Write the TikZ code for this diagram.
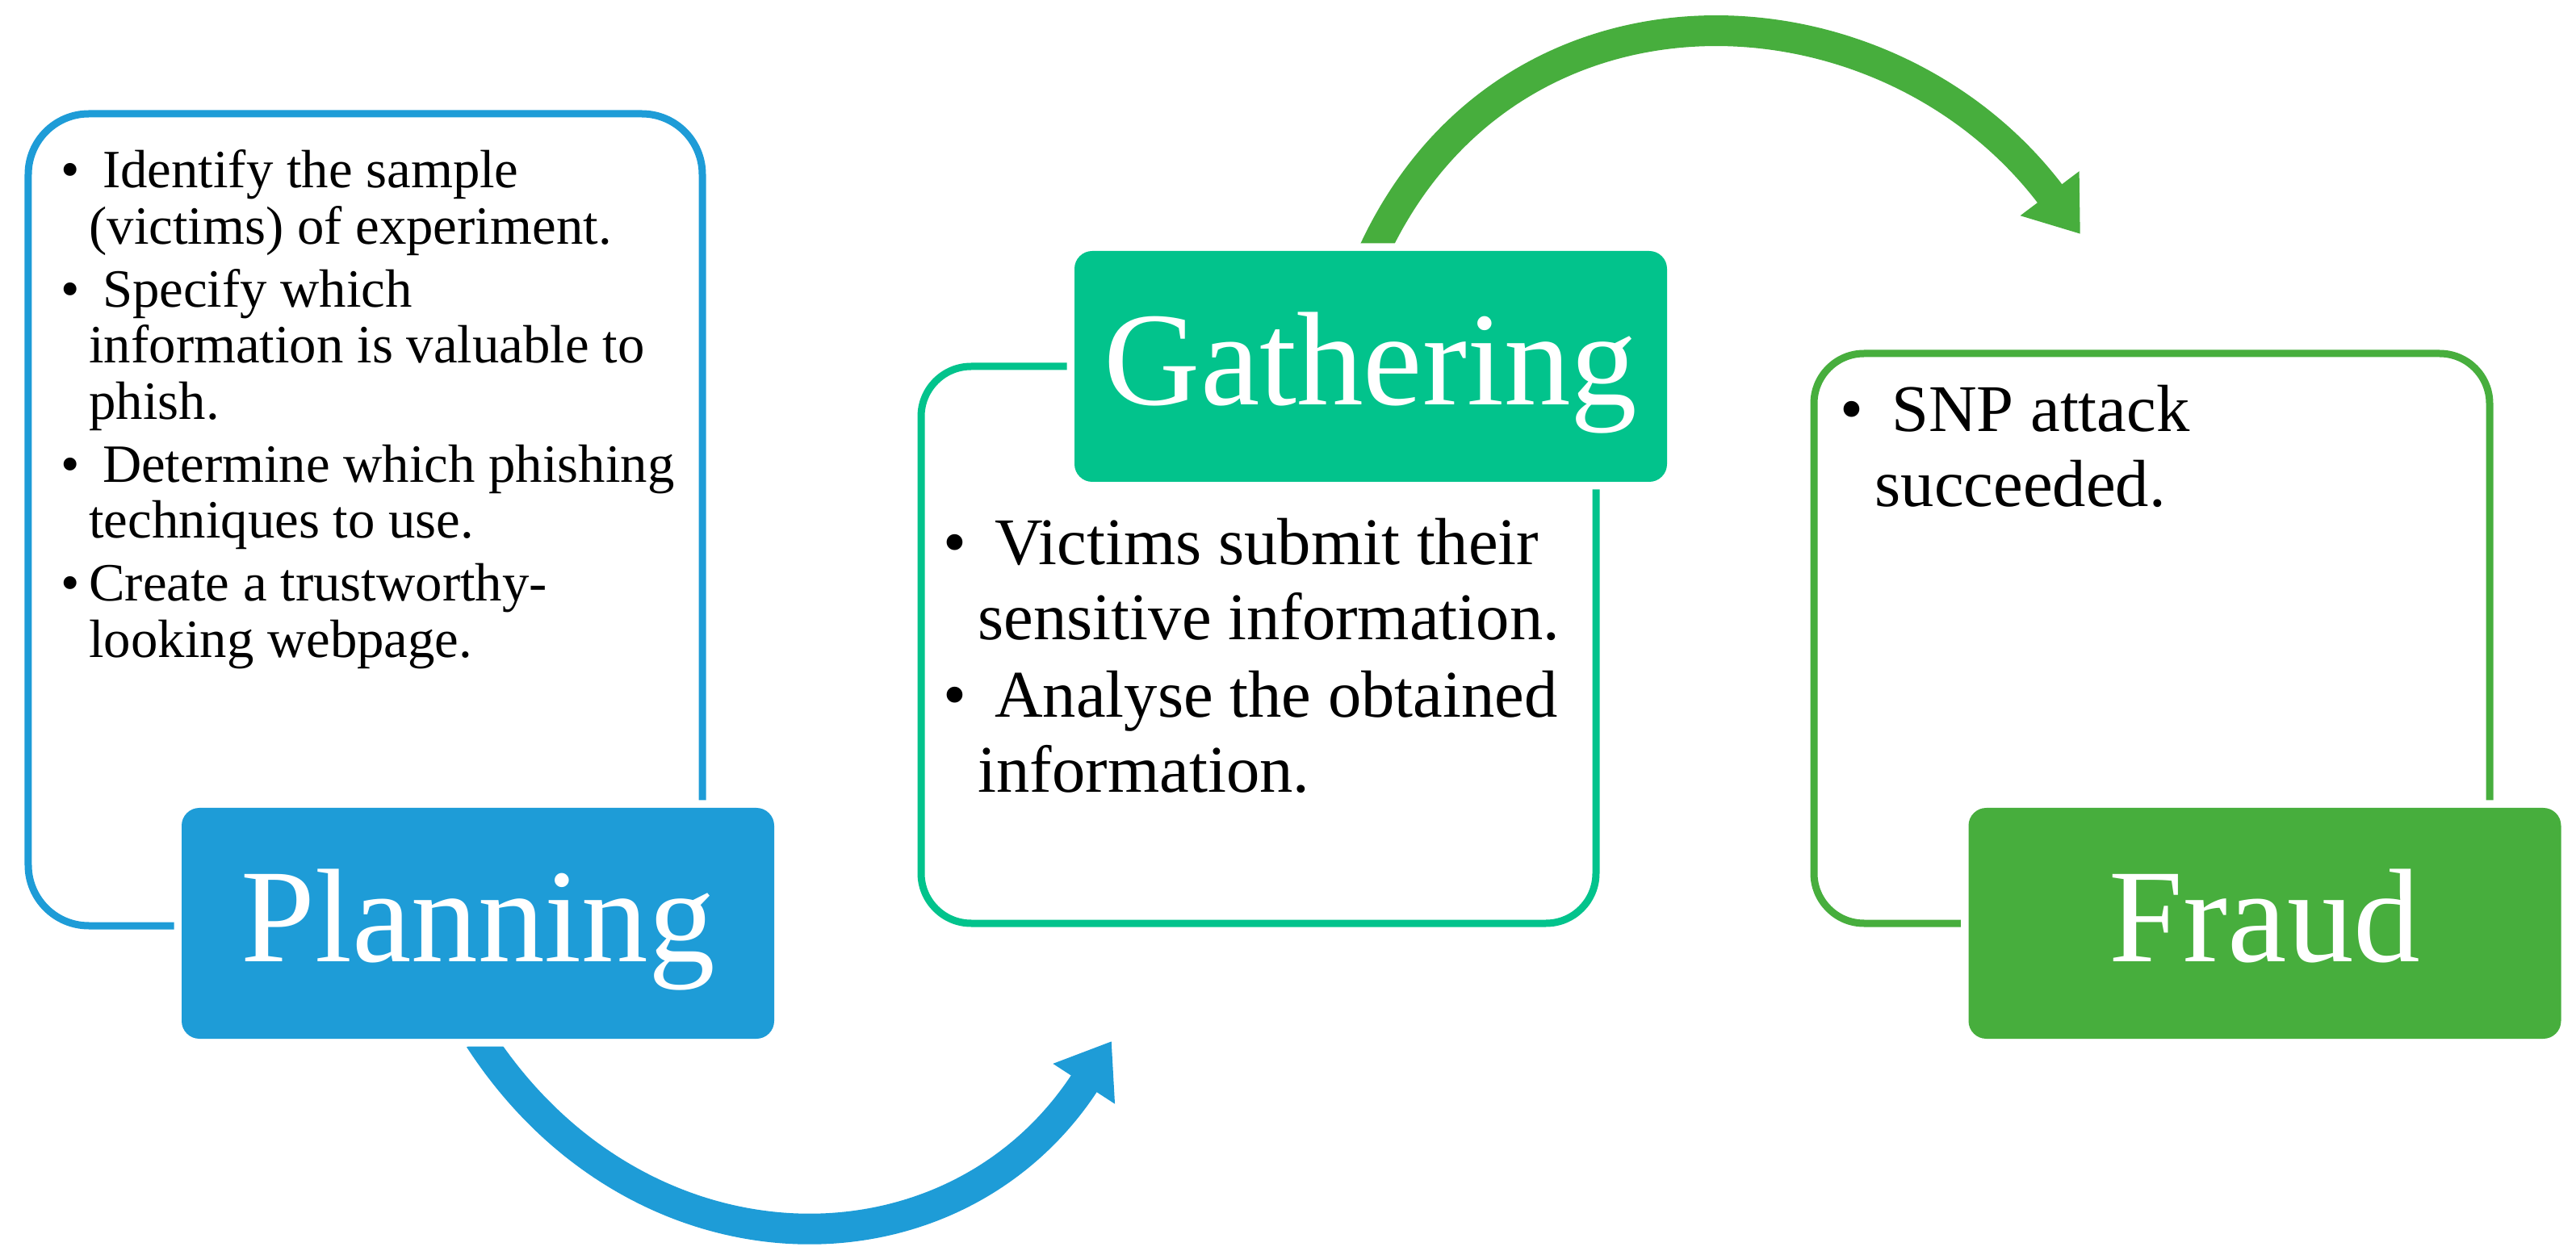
\documentclass[tikz,border=0pt]{standalone}
\usepackage{fontspec}
\setmainfont{Liberation Serif}
\usetikzlibrary{arrows.meta,positioning}

\definecolor{planblue}{HTML}{1E9CD7}
\definecolor{gathteal}{HTML}{02C38C}
\definecolor{fraudgreen}{HTML}{47AE3D}

% bullet and hanging indent for the lists
\newcommand{\bitem}{\makebox[0.52em][l]{\textbullet}}
\newcommand{\bhang}{\hspace*{0.52em}}

\tikzset{
  outline/.style={draw=#1, line width=0.09cm, outer sep=0pt, inner sep=0pt},
  tab/.style={fill=#1, rounded corners=0.22cm, minimum width=7.34cm,
    minimum height=2.86cm, inner sep=0pt, text=white,
    font=\fontsize{47pt}{50pt}\selectfont, text height=32pt, text depth=5pt,
    preaction={draw=white, line width=0.19cm}},
  smalltext/.style={align=left, inner sep=0pt,
    font=\fontsize{19pt}{19.75pt}\selectfont},
  bigtext/.style={align=left, inner sep=0pt,
    font=\fontsize{23.5pt}{26.5pt}\selectfont},
  curvearrow/.style={draw=#1, line width=0.38cm,
    -{Triangle[width=0.87cm,length=0.63cm]}}
}

\begin{document}
\begin{tikzpicture}
  \useasboundingbox (0,0) rectangle (31.91,15.49);

  % outline boxes
  \node[outline=planblue, rounded corners=0.75cm, minimum width=8.35cm,
    minimum height=10.06cm] (planbox) at (4.525,9.05) {};
  \node[outline=gathteal, rounded corners=0.62cm, minimum width=8.36cm,
    minimum height=6.90cm] (gathbox) at (15.59,7.50) {};
  \node[outline=fraudgreen, rounded corners=0.62cm, minimum width=8.37cm,
    minimum height=7.06cm] (fraudbox) at (26.655,7.58) {};

  % arrows (drawn before the tabs, so the tab border cuts them)
  \coordinate (bluetip) at (13.77,2.59);
  \coordinate (greentip) at (25.77,12.59);
  \draw[curvearrow=planblue] ([xshift=0.02cm]5.92,2.62)
    to[out=-57,in=-123,looseness=1.18] (bluetip);
  \draw[curvearrow=fraudgreen] (17.02,12.38)
    to[out=65,in=127,looseness=1.17] (greentip);

  % tabs
  \node[tab=planblue] (plantab) at (5.92,4.05) {Planning};
  \node[tab=gathteal] (gathtab) at (16.98,10.95) {Gathering};
  \node[tab=fraudgreen] (fraudtab) at (28.055,4.05) {Fraud};

  % lists
  \node[smalltext, below right=0.44cm and 0.40cm of planbox.north west] (plantext) {%
    \bitem\ Identify the sample\\
    \bhang(victims) of experiment.\\[2.5pt]
    \bitem\ Specify which\\
    \bhang information is valuable to\\
    \bhang phish.\\[2.5pt]
    \bitem\ Determine which phishing\\
    \bhang techniques to use.\\[2.5pt]
    \bitem Create a trustworthy-\\
    \bhang looking webpage.};
  \node[bigtext, below right=1.87cm and 0.27cm of gathbox.north west] (gathtext) {%
    \bitem\ Victims submit their\\
    \bhang sensitive information.\\[1pt]
    \bitem\ Analyse the obtained\\
    \bhang information.};
  \node[bigtext, below right=0.38cm and 0.32cm of fraudbox.north west] (fraudtext) {%
    \bitem\ SNP attack\\
    \bhang succeeded.};
\end{tikzpicture}
\end{document}
